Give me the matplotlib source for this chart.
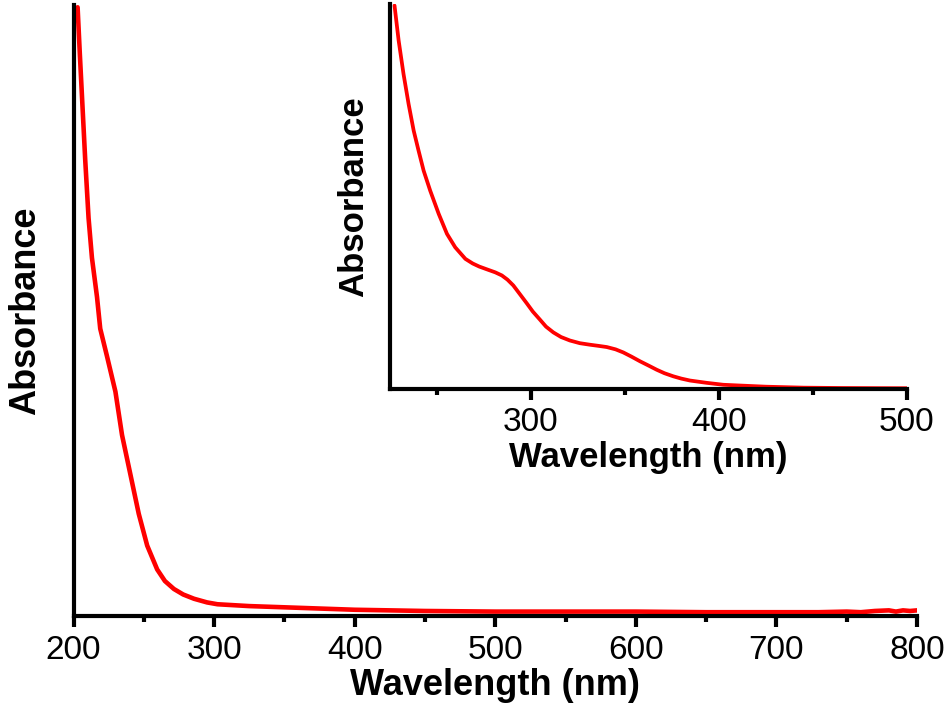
import matplotlib
matplotlib.use("Agg")
import matplotlib.pyplot as plt

plt.rcParams['font.family'] = ['Liberation Sans', 'DejaVu Sans']

# Main spectrum (wavelength nm, normalised absorbance)
main_wl = [202.9, 204.5, 206, 208.3, 210.7, 213.1, 216.7, 219, 223.8, 229.8, 234.5, 240.5,
           246.4, 252.4, 259.5, 265, 271.4, 278, 285.7, 295, 302.4, 325, 350, 375, 400, 450, 500,
           550, 600, 650, 700, 730, 750, 760, 770, 780, 785, 790, 795, 800]
main_abs = [0.997, 0.92, 0.852, 0.748, 0.652, 0.587, 0.523, 0.471, 0.426, 0.368, 0.297, 0.232,
            0.168, 0.116, 0.077, 0.058, 0.045, 0.036, 0.029, 0.023, 0.020, 0.017, 0.015, 0.013,
            0.011, 0.009, 0.008, 0.008, 0.008, 0.007, 0.007, 0.007, 0.008, 0.007, 0.009, 0.010,
            0.008, 0.010, 0.009, 0.010]

# Inset spectrum
ins_wl = [227.4, 229.6, 232.2, 234.9, 237.6, 240.2, 242.9, 246.4, 250.9, 255.3, 259.7,
          265.1, 269, 272.5, 277, 281, 284.5, 287.5, 290.6, 294, 297.7, 301, 304.8, 308,
          311.9, 316, 320.7, 326, 331.4, 336, 340.3, 345, 349.1, 353.5,
          358.0, 362.5, 366.9, 371, 375.7, 380, 384.6, 393.5, 402.3, 411.2, 425, 445, 465, 485, 500]
ins_abs = [0.996, 0.905, 0.818, 0.740, 0.671, 0.619, 0.567, 0.515, 0.455, 0.403, 0.368,
           0.338, 0.326, 0.318, 0.310, 0.303, 0.295, 0.284, 0.269, 0.247, 0.223, 0.201, 0.180,
           0.162, 0.147, 0.135, 0.126, 0.119, 0.115, 0.112, 0.109, 0.103, 0.095, 0.084,
           0.072, 0.061, 0.050, 0.041, 0.033, 0.027, 0.022, 0.016, 0.011, 0.009, 0.006, 0.0035,
           0.0026, 0.0022, 0.002]

main_ticks = [200, 300, 400, 500, 600, 700, 800]
ins_ticks = [300, 400, 500]

fig = plt.figure(figsize=(9.45, 7.16), dpi=100)

def style(ax, major, minor, xlim):
    for s in ['top', 'right']:
        ax.spines[s].set_visible(False)
    for s in ['left', 'bottom']:
        ax.spines[s].set_linewidth(3)
    ax.set_xlim(*xlim)
    ax.set_ylim(0, 1.0)
    ax.set_yticks([])
    ax.set_xticks(major)
    ax.set_xticks(minor, minor=True)
    ax.tick_params(axis='x', which='major', direction='out', length=8, width=3,
                   labelsize=24, pad=5)
    ax.tick_params(axis='x', which='minor', direction='out', length=4, width=3)

ax = fig.add_axes([0.0778, 0.1390, 0.8926, 0.8534])
ax.plot(main_wl, main_abs, color='#ff0000', lw=3.3, solid_joinstyle='round',
        solid_capstyle='round')
style(ax, main_ticks, [250, 350, 450, 550, 650, 750], (200, 800))
ax.set_xticklabels([str(t) for t in main_ticks])
ax.set_xlabel('Wavelength (nm)', fontsize=26, fontweight='bold', labelpad=2)
ax.set_ylabel('Absorbance', fontsize=26, fontweight='bold', labelpad=22)

ins = fig.add_axes([0.4127, 0.4567, 0.547, 0.5377])
ins.plot(ins_wl, ins_abs, color='#ff0000', lw=2.7, solid_joinstyle='round',
         solid_capstyle='round')
style(ins, ins_ticks, [250, 350, 450], (225, 500))
ins.set_xticklabels([str(t) for t in ins_ticks])
ins.set_xlabel('Wavelength (nm)', fontsize=25, fontweight='bold', labelpad=2)
ins.set_ylabel('Absorbance', fontsize=25, fontweight='bold', labelpad=14)
ins.patch.set_alpha(0)

fig.savefig('out.png', dpi=100)
